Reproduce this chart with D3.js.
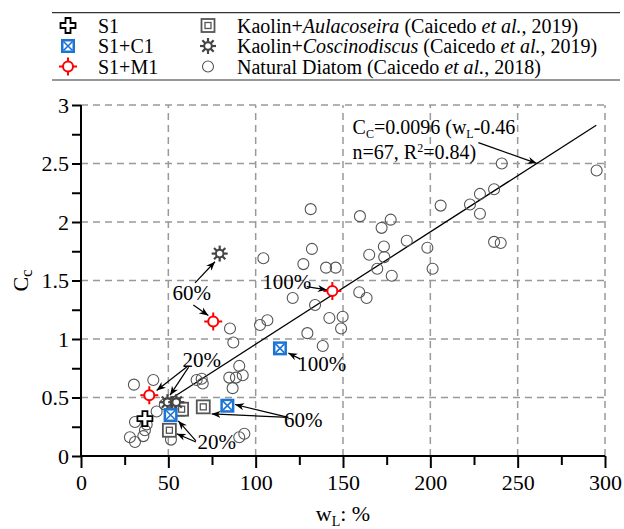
<!DOCTYPE html>
<head>
    <meta charset="utf-8">
    <title>Cc vs wL</title>
    <script src="https://d3js.org/d3.v7.min.js"></script>
    <style>
    body { margin: 0; background: #fff; }
    svg text { font-family: "Liberation Serif", "Times New Roman", serif !important; fill: #000; }
    </style>
</head>
<body>
<script>
// natural diatom data (Caicedo et al., 2018)
var natural = [
    [240.9, 2.50], [295.2, 2.44], [236.5, 2.28], [228.4, 2.24], [222.7, 2.15],
    [228.4, 2.07], [205.9, 2.14], [159.7, 2.05], [177.3, 2.02], [172.1, 1.95],
    [186.5, 1.84], [198.3, 1.78], [173.4, 1.79], [165.0, 1.72], [173.6, 1.70],
    [236.5, 1.83], [240.3, 1.82], [169.6, 1.60], [177.9, 1.54], [201.3, 1.60],
    [159.3, 1.40], [163.5, 1.35], [131.5, 2.11], [132.2, 1.77], [104.4, 1.69],
    [127.3, 1.64], [140.3, 1.61], [145.8, 1.61], [121.2, 1.35], [134.0, 1.29],
    [142.2, 1.18], [149.8, 1.19], [148.9, 1.09], [129.6, 1.05], [138.4, 0.94],
    [85.3, 1.09], [87.2, 0.97], [102.5, 1.12], [106.7, 1.16], [90.6, 0.77],
    [92.6, 0.69], [84.9, 0.67], [88.7, 0.67], [86.8, 0.58], [69.1, 0.66],
    [69.7, 0.62], [66.2, 0.65], [93.5, 0.19], [90.6, 0.16], [41.4, 0.65],
    [30.3, 0.61], [28.0, 0.16], [30.9, 0.12], [35.7, 0.17], [36.6, 0.22],
    [30.9, 0.29], [37.6, 0.27], [43.3, 0.38], [51.5, 0.14], [48.0, 0.44],
    [54.0, 0.46]
];
var aulacoseira = [[50.6, 0.22], [55.5, 0.40], [57.6, 0.40], [70.0, 0.42]];
var coscinodiscus = [[49.5, 0.46], [54.5, 0.46], [79.4, 1.73]];
var s1 = [[36.6, 0.32]];
var s1c1 = [[51.3, 0.35], [83.8, 0.43], [113.9, 0.92]];
var s1m1 = [[39.1, 0.52], [75.7, 1.15], [143.9, 1.41]];

// fit: Cc = 0.0096 (wL - 0.46)
var fitSlope = 0.0096, fitOffset = 0.46, fitRange = [47, 295];

var xTicks = [0, 50, 100, 150, 200, 250, 300];
var yTicks = [0, 0.5, 1, 1.5, 2, 2.5, 3];

// labels: text, anchor [wL, Cc], arrows [[from], [to]]
var notes = [
    {t: "20%", at: [69.1, 0.76], arrows: [[[60.5, 0.76], [43.3, 0.56]], [[61.6, 0.76], [51.0, 0.52]]]},
    {t: "20%", at: [77.7, 0.06], arrows: [[[65.8, 0.13], [55.7, 0.30]], [[65.8, 0.12], [54.8, 0.19]]]},
    {t: "60%", at: [127.3, 0.25], arrows: [[[118.7, 0.33], [88.2, 0.44]], [[118.7, 0.33], [74.8, 0.36]]]},
    {t: "100%", at: [137.8, 0.73], arrows: [[[125.4, 0.83], [118.7, 0.88]]]},
    {t: "60%", at: [63.4, 1.33], arrows: [[[65.3, 1.48], [76.7, 1.66]], [[64.3, 1.29], [72.9, 1.20]]]},
    {t: "100%", at: [117.8, 1.43], arrows: [[[129.2, 1.447], [140.7, 1.42]]]}
];

var width = 624, height = 529;
var svg = d3.select("body").append("svg")
    .attr("width", width)
    .attr("height", height);

var x = d3.scaleLinear().domain([0, 300]).range([81, 605]);
var y = d3.scaleLinear().domain([0, 3]).range([456, 105]);

svg.append("defs").append("marker")
    .attr("id", "arr")
    .attr("viewBox", "0 0 10 10")
    .attr("refX", 10).attr("refY", 5)
    .attr("markerWidth", 9).attr("markerHeight", 9)
    .attr("markerUnits", "userSpaceOnUse")
    .attr("orient", "auto")
  .append("path")
    .attr("d", "M0,1 L10,5 L0,9 L3,5 Z")
    .attr("fill", "#000");

// grid
var grid = svg.append("g")
    .attr("stroke", "#999")
    .attr("stroke-width", 1.5)
    .attr("stroke-dasharray", "7,5");
grid.selectAll(".gx").data(xTicks.slice(1)).enter().append("line")
    .attr("x1", function(d) { return x(d); }).attr("x2", function(d) { return x(d); })
    .attr("y1", y(0)).attr("y2", y(3));
grid.selectAll(".gy").data(yTicks.slice(1)).enter().append("line")
    .attr("y1", function(d) { return y(d); }).attr("y2", function(d) { return y(d); })
    .attr("x1", x(0)).attr("x2", x(300));

// axes
svg.append("g")
    .attr("transform", "translate(0," + y(0) + ")")
    .call(d3.axisBottom(x).tickValues(xTicks).tickSize(12).tickPadding(6).tickFormat(d3.format("d")));
svg.append("g")
    .attr("transform", "translate(0," + y(0) + ")")
    .call(d3.axisBottom(x).tickValues(d3.range(25, 300, 50)).tickSize(9).tickFormat(""));
svg.append("g")
    .attr("transform", "translate(" + x(0) + ",0)")
    .call(d3.axisLeft(y).tickValues(yTicks).tickSize(9).tickPadding(3).tickFormat(function(d) { return d; }));
svg.append("g")
    .attr("transform", "translate(" + x(0) + ",0)")
    .call(d3.axisLeft(y).tickValues(d3.range(0.25, 3, 0.5)).tickSize(9).tickFormat(""));

svg.selectAll(".domain").remove();
svg.selectAll(".tick line").attr("stroke-width", 2);
svg.selectAll(".tick text").style("font-size", "22px");
svg.append("line").attr("x1", x(0)).attr("x2", x(300)).attr("y1", y(0)).attr("y2", y(0))
    .attr("stroke", "#000").attr("stroke-width", 2);
svg.append("line").attr("x1", x(0)).attr("x2", x(0)).attr("y1", y(0)).attr("y2", y(3))
    .attr("stroke", "#000").attr("stroke-width", 2);

// axis titles
var xt = svg.append("text").attr("x", 343).attr("y", 521).attr("text-anchor", "middle").style("font-size", "22px");
xt.append("tspan").text("w");
xt.append("tspan").text("L").attr("dy", 5).style("font-size", "14px");
xt.append("tspan").text(": %").attr("dy", -5);
var yt = svg.append("text").attr("transform", "translate(28," + y(1.5) + ") rotate(-90)")
    .attr("text-anchor", "middle").style("font-size", "22px");
yt.append("tspan").text("C");
yt.append("tspan").text("c").attr("dy", 4).style("font-size", "17px");

// fit line
svg.append("line")
    .attr("x1", x(fitRange[0])).attr("y1", y(fitSlope * (fitRange[0] - fitOffset)))
    .attr("x2", x(fitRange[1])).attr("y2", y(fitSlope * (fitRange[1] - fitOffset)))
    .attr("stroke", "#000").attr("stroke-width", 1.3);

// marker drawing
function drawCircle(g) {
    g.append("circle").attr("r", 5.5).attr("fill", "none").attr("stroke", "#555").attr("stroke-width", 1.1);
}
function drawSquare(g) {
    g.append("rect").attr("x", -6.5).attr("y", -6.5).attr("width", 13).attr("height", 13)
        .attr("fill", "#fff").attr("stroke", "#555").attr("stroke-width", 1.8);
    g.append("rect").attr("x", -3).attr("y", -3).attr("width", 6).attr("height", 6)
        .attr("fill", "none").attr("stroke", "#555").attr("stroke-width", 1.3);
}
function drawStar(g) {
    for (var i = 0; i < 8; i++) {
        var a = i * Math.PI / 4;
        g.append("line").attr("x1", 3 * Math.cos(a)).attr("y1", 3 * Math.sin(a))
            .attr("x2", 8 * Math.cos(a)).attr("y2", 8 * Math.sin(a))
            .attr("stroke", "#444").attr("stroke-width", 2.2);
    }
    g.append("circle").attr("r", 3.8).attr("fill", "#fff").attr("stroke", "#444").attr("stroke-width", 2);
}
function drawCross(g) {
    g.append("path").attr("d", "M-2.5,-7.5H2.5V-2.5H7.5V2.5H2.5V7.5H-2.5V2.5H-7.5V-2.5H-2.5Z")
        .attr("fill", "#fff").attr("stroke", "#000").attr("stroke-width", 1.8);
}
function drawBox(g) {
    g.append("rect").attr("x", -7).attr("y", -7).attr("width", 14).attr("height", 14).attr("fill", "#1c74d4");
    g.append("rect").attr("x", -4.5).attr("y", -4.5).attr("width", 9).attr("height", 9).attr("fill", "#fff");
    g.append("path").attr("d", "M-4.5,-4.5L4.5,4.5M4.5,-4.5L-4.5,4.5")
        .attr("stroke", "#1c74d4").attr("stroke-width", 1.6);
}
function drawTarget(g) {
    g.append("path").attr("d", "M0,-9V-3M0,3V9M-9,0H-3M3,0H9")
        .attr("stroke", "#f00").attr("stroke-width", 2);
    g.append("circle").attr("r", 5).attr("fill", "#fff").attr("stroke", "#f00").attr("stroke-width", 2);
}

function plot(data, fn) {
    svg.append("g").selectAll("g").data(data).enter().append("g")
        .attr("transform", function(d) { return "translate(" + x(d[0]) + "," + y(d[1]) + ")"; })
        .each(function() { fn(d3.select(this)); });
}
plot(natural, drawCircle);
plot(aulacoseira, drawSquare);
plot(coscinodiscus, drawStar);
plot(s1, drawCross);
plot(s1c1, drawBox);
plot(s1m1, drawTarget);

// annotations
notes.forEach(function(n) {
    svg.append("text").attr("x", x(n.at[0])).attr("y", y(n.at[1]))
        .attr("text-anchor", "middle").style("font-size", "21px").text(n.t);
    n.arrows.forEach(function(a) {
        svg.append("line")
            .attr("x1", x(a[0][0])).attr("y1", y(a[0][1]))
            .attr("x2", x(a[1][0])).attr("y2", y(a[1][1]))
            .attr("stroke", "#000").attr("stroke-width", 1.2)
            .attr("marker-end", "url(#arr)");
    });
});

// equation
var eq1 = svg.append("text").attr("x", x(155.5)).attr("y", y(2.75)).style("font-size", "20px");
eq1.append("tspan").text("C");
eq1.append("tspan").text("C").attr("dy", 4).style("font-size", "12px");
eq1.append("tspan").text("=0.0096 (w").attr("dy", -4);
eq1.append("tspan").text("L").attr("dy", 4).style("font-size", "12px");
eq1.append("tspan").text("-0.46").attr("dy", -4);
var eq2 = svg.append("text").attr("x", x(155.5)).attr("y", y(2.535)).style("font-size", "20px");
eq2.append("tspan").text("n=67, R");
eq2.append("tspan").text("2").attr("dy", -7).style("font-size", "12px");
eq2.append("tspan").text("=0.84)").attr("dy", 7);
svg.append("line")
    .attr("x1", x(227.5)).attr("y1", y(2.678)).attr("x2", x(260.9)).attr("y2", y(2.502))
    .attr("stroke", "#000").attr("stroke-width", 1.3).attr("marker-end", "url(#arr)");

// legend
var legItems = [
    {t: ["S1"], fn: drawCross, col: 0, row: 0},
    {t: ["S1+C1"], fn: drawBox, col: 0, row: 1},
    {t: ["S1+M1"], fn: drawTarget, col: 0, row: 2},
    {t: ["Kaolin+", "Aulacoseira", " (Caicedo ", "et al.", ", 2019)"], fn: drawSquare, col: 1, row: 0},
    {t: ["Kaolin+", "Coscinodiscus", " (Caicedo ", "et al.", ", 2019)"], fn: drawStar, col: 1, row: 1},
    {t: ["Natural Diatom (Caicedo ", "et al.", ", 2018)"], fn: drawCircle, col: 1, row: 2}
];
var legCols = [68, 208], legText = [98, 237], legRows = [32.5, 53, 73.5];
var leg = svg.append("g");
leg.append("line").attr("x1", 52).attr("x2", 620).attr("y1", 12.7).attr("y2", 12.7).attr("stroke", "#333").attr("stroke-width", 1.2);
leg.append("line").attr("x1", 52).attr("x2", 620).attr("y1", 80).attr("y2", 80).attr("stroke", "#333").attr("stroke-width", 1.2);
legItems.forEach(function(it) {
    var g = leg.append("g").attr("transform", "translate(" + legCols[it.col] + "," + (legRows[it.row] - 7) + ")");
    it.fn(g);
    var tx = leg.append("text").attr("x", legText[it.col]).attr("y", legRows[it.row]).style("font-size", "20px");
    it.t.forEach(function(s) {
        var sp = tx.append("tspan").text(s);
        if (s === "Aulacoseira" || s === "Coscinodiscus" || s === "et al.") sp.style("font-style", "italic");
    });
});
</script>
</body>
